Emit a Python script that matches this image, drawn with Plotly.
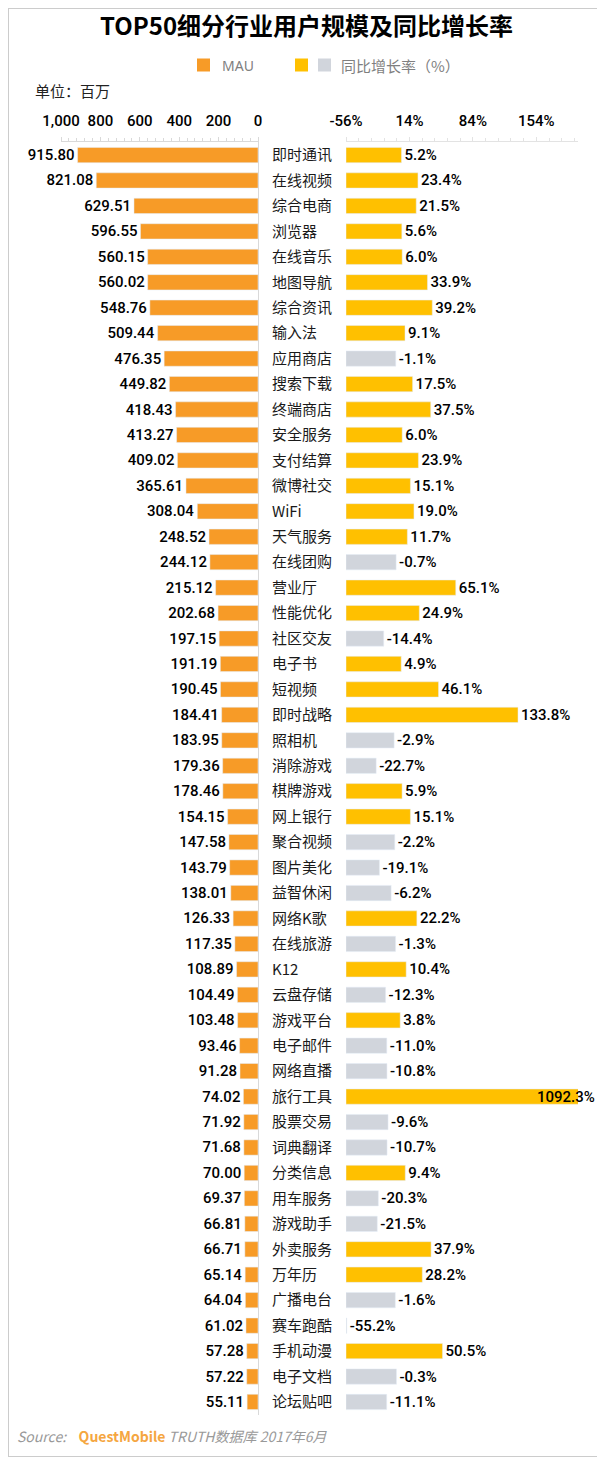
import plotly.graph_objects as go

# TOP50 细分行业: MAU (百万) and 同比增长率 (%)
industries = ["即时通讯", "在线视频", "综合电商", "浏览器", "在线音乐", "地图导航", "综合资讯", "输入法", "应用商店", "搜索下载",
              "终端商店", "安全服务", "支付结算", "微博社交", "WiFi", "天气服务", "在线团购", "营业厅", "性能优化", "社区交友",
              "电子书", "短视频", "即时战略", "照相机", "消除游戏", "棋牌游戏", "网上银行", "聚合视频", "图片美化", "益智休闲",
              "网络K歌", "在线旅游", "K12", "云盘存储", "游戏平台", "电子邮件", "网络直播", "旅行工具", "股票交易", "词典翻译",
              "分类信息", "用车服务", "游戏助手", "外卖服务", "万年历", "广播电台", "赛车跑酷", "手机动漫", "电子文档", "论坛贴吧"]
mau = [915.80, 821.08, 629.51, 596.55, 560.15, 560.02, 548.76, 509.44, 476.35, 449.82,
       418.43, 413.27, 409.02, 365.61, 308.04, 248.52, 244.12, 215.12, 202.68, 197.15,
       191.19, 190.45, 184.41, 183.95, 179.36, 178.46, 154.15, 147.58, 143.79, 138.01,
       126.33, 117.35, 108.89, 104.49, 103.48, 93.46, 91.28, 74.02, 71.92, 71.68,
       70.00, 69.37, 66.81, 66.71, 65.14, 64.04, 61.02, 57.28, 57.22, 55.11]
growth = [5.2, 23.4, 21.5, 5.6, 6.0, 33.9, 39.2, 9.1, -1.1, 17.5,
          37.5, 6.0, 23.9, 15.1, 19.0, 11.7, -0.7, 65.1, 24.9, -14.4,
          4.9, 46.1, 133.8, -2.9, -22.7, 5.9, 15.1, -2.2, -19.1, -6.2,
          22.2, -1.3, 10.4, -12.3, 3.8, -11.0, -10.8, 1092.3, -9.6, -10.7,
          9.4, -20.3, -21.5, 37.9, 28.2, -1.6, -55.2, 50.5, -0.3, -11.1]

mau_ticks = [0, 200, 400, 600, 800, 1000]
growth_ticks = [-56, 14, 84, 154]
growth_min, growth_max = -56, 200

# page is offset by the 8px body margin
OFF = 8
W, H = 605 - OFF, 1457 - OFF


def px(x):
    return (x - OFF) / W


def py(y):
    return 1 - (y - OFF) / H


ORANGE = "#F79B27"
YELLOW = "#FFC000"
GREY = "#D1D5DC"
NUMFONT = "Roboto"
CJK = "Noto Sans CJK SC"
num_font = dict(family=NUMFONT, size=15, color="#000", weight=500)

fig = go.Figure()

fig.add_trace(go.Bar(
    y=industries, x=mau, orientation="h", xaxis="x", yaxis="y",
    marker_color=ORANGE, width=0.6,
    text=["%.2f" % v for v in mau], textposition="outside", constraintext="none",
    textfont=num_font, cliponaxis=False, showlegend=False,
))

# growth bars start from the left end of the axis (-56%)
for positive, col in [(True, YELLOW), (False, GREY)]:
    ys, xs, txt = [], [], []
    for name, g in zip(industries, growth):
        if (g >= 0) == positive:
            ys.append(name)
            xs.append(g - growth_min)
            txt.append("%.1f%%" % g if g <= growth_max else "")
    fig.add_trace(go.Bar(
        y=ys, x=xs, base=growth_min, orientation="h", xaxis="x2", yaxis="y",
        marker_color=col, width=0.6,
        text=txt, textposition="outside", constraintext="none", textfont=num_font,
        showlegend=False,
    ))

# bar running past the axis end: label sits at the clipped end
for name, g in zip(industries, growth):
    if g > growth_max:
        fig.add_annotation(text="%.1f%%" % g, x=growth_max, y=name, xref="x2", yref="y",
                           xanchor="center", xshift=-12, showarrow=False, font=num_font)

ydom = [py(1414.7), py(142.3)]
tick_font = dict(family=NUMFONT, size=15, color="#000", weight=500)
fig.update_layout(
    width=W, height=H,
    margin=dict(l=0, r=0, t=0, b=0, autoexpand=False),
    paper_bgcolor="white", plot_bgcolor="white",
    font=dict(family=CJK, size=14, color="#000"),
    xaxis=dict(domain=[px(61), px(258)], range=[1000, 0], side="top", automargin=False,
               tickvals=mau_ticks, ticktext=["{:,}".format(t) for t in mau_ticks],
               showgrid=False, zeroline=False,
               showline=True, linecolor="#D9D9D9", linewidth=1,
               ticks="outside", ticklen=4, tickcolor="#D9D9D9",
               minor=dict(dtick=40, ticks="outside", ticklen=3, tickcolor="#D9D9D9"),
               tickfont=tick_font, ticklabelstandoff=5,
               anchor="y", fixedrange=True),
    xaxis2=dict(domain=[px(346), px(578)], range=[growth_min, growth_max], side="top", automargin=False,
                tickvals=growth_ticks, ticktext=["%d%%" % t for t in growth_ticks],
                showgrid=False, zeroline=False,
                showline=True, linecolor="#E3E3E3", linewidth=1,
                ticks="outside", ticklen=4, tickcolor="#E3E3E3",
                minor=dict(tick0=-56, dtick=14, ticks="outside", ticklen=3, tickcolor="#E3E3E3"),
                tickfont=tick_font, ticklabelstandoff=5,
                anchor="y", fixedrange=True),
    yaxis=dict(domain=ydom, categoryorder="array", categoryarray=industries,
               autorange="reversed", side="right", anchor="x", automargin=False,
               showgrid=False, zeroline=False, showline=True, linecolor="#D9D9D9",
               ticks="", ticklabelstandoff=10,
               tickfont=dict(family=CJK, size=15, color="#1A1A1A"), fixedrange=True),
)

# title, legend, unit, source
fig.add_annotation(text="<b>TOP50细分行业用户规模及同比增长率</b>", x=px(306), y=py(24),
                   xref="paper", yref="paper", showarrow=False, xanchor="center", yanchor="middle",
                   font=dict(family=CJK, size=24, color="#000"))
legend_y = py(65)
for x0, col in [(197, ORANGE), (295, YELLOW), (318, GREY)]:
    fig.add_shape(type="rect", xref="paper", yref="paper",
                  x0=px(x0), x1=px(x0 + 13), y0=legend_y - 6.5 / H, y1=legend_y + 6.5 / H,
                  fillcolor=col, line_width=0)
fig.add_annotation(text="MAU", x=px(220), y=legend_y, xref="paper", yref="paper", showarrow=False,
                   xanchor="left", yanchor="middle", font=dict(family="Noto Sans", size=14, color="#7F7F7F"))
fig.add_annotation(text="同比增长率（%）", x=px(339), y=legend_y, xref="paper", yref="paper", showarrow=False,
                   xanchor="left", yanchor="middle", font=dict(family=CJK, size=15, color="#7F7F7F"))
fig.add_annotation(text="单位：百万", x=px(33), y=py(91), xref="paper", yref="paper", showarrow=False,
                   xanchor="left", yanchor="middle", font=dict(family=CJK, size=15, color="#222"))
fig.add_annotation(
    text="<i>Source:</i>    <b><span style='color:#F5A640'>QuestMobile</span></b> <i>TRUTH数据库 2017年6月</i>",
    x=px(15), y=py(1436), xref="paper", yref="paper", showarrow=False,
    xanchor="left", yanchor="middle", font=dict(family=CJK, size=14, color="#999999"))
fig.add_shape(type="rect", xref="paper", yref="paper", x0=0, x1=1, y0=0, y1=1,
              line=dict(color="#CCCCCC", width=2), fillcolor="rgba(0,0,0,0)")

fig.write_html("out.html")
